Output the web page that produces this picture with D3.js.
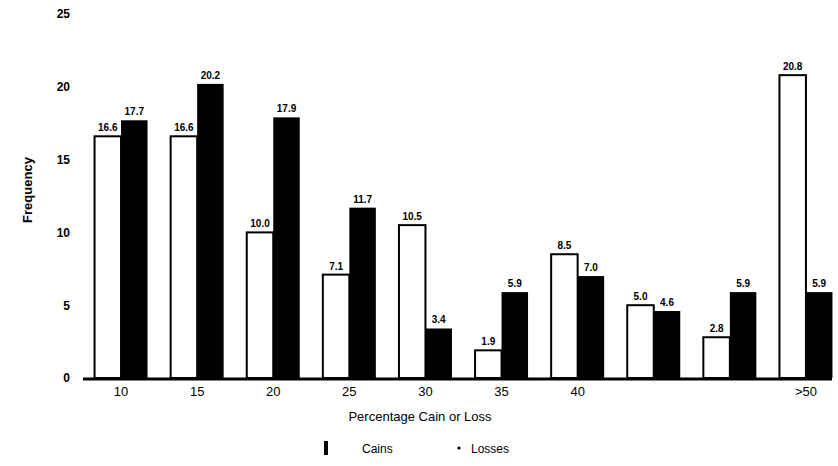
<!DOCTYPE html>
<html>
<head>
<meta charset="utf-8">
<script src="https://cdn.jsdelivr.net/npm/d3@7"></script>
<style>
  html, body { margin: 0; padding: 0; background: #fff; }
  svg { display: block; font-family: "Liberation Sans", Arial, sans-serif; }
</style>
</head>
<body>
<svg id="chart" width="838" height="466"></svg>
<script>
const categories = ["10", "15", "20", "25", "30", "35", "40", "45", "50", ">50"];
const tickLabels = ["10", "15", "20", "25", "30", "35", "40", "", "", ">50"];
const gains  = [16.6, 16.6, 10.0, 7.1, 10.5, 1.9, 8.5, 5.0, 2.8, 20.8];
const losses = [17.7, 20.2, 17.9, 11.7, 3.4, 5.9, 7.0, 4.6, 5.9, 5.9];
const yTicks = [0, 5, 10, 15, 20, 25];

const svg = d3.select("#chart");
const baseY = 378;

const x = d3.scaleBand().domain(categories).range([83, 844]).padding(0);
const y = d3.scaleLinear().domain([0, 25]).range([baseY, 14]);
const bw = 26.5;

const groups = categories.map((c, i) => ({ c, g: gains[i], l: losses[i], cx: x(c) + x.bandwidth() / 2 }));

// Gains bars (white, outlined)
svg.append("g").selectAll("rect").data(groups).join("rect")
  .attr("x", d => d.cx - bw)
  .attr("y", d => y(d.g))
  .attr("width", bw)
  .attr("height", d => baseY - y(d.g))
  .attr("fill", "#fff")
  .attr("stroke", "#000")
  .attr("stroke-width", 2);

// Losses bars (black)
svg.append("g").selectAll("rect").data(groups).join("rect")
  .attr("x", d => d.cx)
  .attr("y", d => y(d.l))
  .attr("width", bw)
  .attr("height", d => baseY - y(d.l))
  .attr("fill", "#000");

// Value labels
const lab = svg.append("g").attr("font-size", 10).attr("font-weight", "bold").attr("text-anchor", "middle");
lab.selectAll("text.g").data(groups).join("text").attr("class", "g")
  .attr("x", d => d.cx - bw / 2).attr("y", d => y(d.g) - 5).text(d => d.g.toFixed(1));
lab.selectAll("text.l").data(groups).join("text").attr("class", "l")
  .attr("x", d => d.cx + bw / 2).attr("y", d => y(d.l) - 5).text(d => d.l.toFixed(1));

// X axis line
svg.append("line").attr("x1", 83).attr("x2", 832).attr("y1", baseY + 1).attr("y2", baseY + 1)
  .attr("stroke", "#000").attr("stroke-width", 3);

// X axis tick labels
const xAxis = d3.axisBottom(x).tickSize(0).tickPadding(0).tickFormat((d, i) => tickLabels[i]);
const xg = svg.append("g").attr("transform", `translate(0,${baseY + 9})`).call(xAxis);
xg.select(".domain").remove();
xg.selectAll("text").attr("font-size", 13).attr("font-family", "Liberation Sans, Arial, sans-serif").attr("fill", "#000");

// Y axis tick labels
const yAxis = d3.axisLeft(y).tickValues(yTicks).tickSize(0).tickPadding(0);
const yg = svg.append("g").attr("transform", "translate(70,0)").call(yAxis);
yg.select(".domain").remove();
yg.selectAll("text").attr("font-size", 12).attr("font-weight", "bold").attr("font-family", "Liberation Sans, Arial, sans-serif").attr("fill", "#000");

// Y title
svg.append("text").attr("transform", "translate(32,190) rotate(-90)")
  .attr("text-anchor", "middle").attr("font-size", 13).attr("font-weight", "bold").text("Frequency");

// X title
svg.append("text").attr("x", 420).attr("y", 421).attr("text-anchor", "middle")
  .attr("font-size", 13).text("Percentage Cain or Loss");

// Legend
const leg = svg.append("g");
leg.append("rect").attr("x", 324).attr("y", 441).attr("width", 4).attr("height", 14).attr("fill", "#000");
leg.append("text").attr("x", 362).attr("y", 453).attr("font-size", 12).text("Cains");
leg.append("circle").attr("cx", 459).attr("cy", 448).attr("r", 1.6).attr("fill", "#000");
leg.append("text").attr("x", 471).attr("y", 453).attr("font-size", 12).text("Losses");
</script>
</body>
</html>
